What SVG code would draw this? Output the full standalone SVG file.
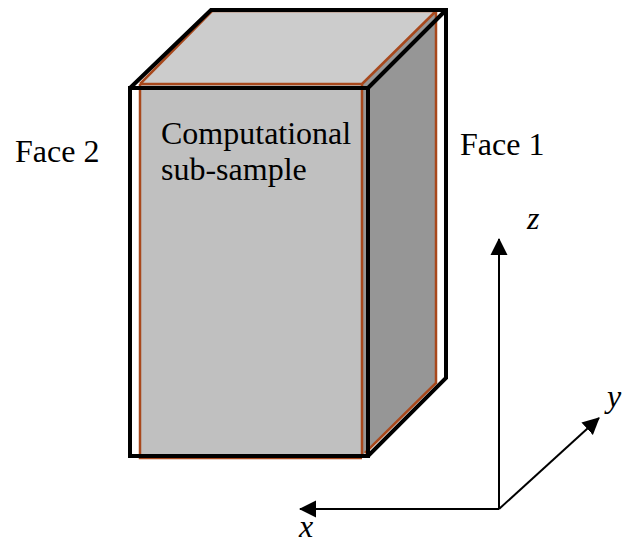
<svg xmlns="http://www.w3.org/2000/svg" width="622" height="545" viewBox="0 0 622 545">
<style>
.o{fill:none;stroke:#a8481c;stroke-width:2.5}
.k{fill:none;stroke:#000;stroke-width:4;stroke-linejoin:miter}
.a{fill:none;stroke:#000;stroke-width:2}
.t{font-family:"Liberation Serif","Times New Roman",serif;font-size:32px;fill:#000}
.i{font-style:italic}
</style>
<defs><marker id="ah" markerUnits="userSpaceOnUse" markerWidth="18" markerHeight="18" refX="16" refY="9" orient="auto"><path d="M0 0.5L17 9L0 17.5Z" fill="#000"/></marker></defs>
<g id="sample">
<path d="M212 10H436L362 84H140Z" fill="#cccccc"/>
<rect x="140" y="84" width="222" height="372" fill="#c0c0c0"/>
<path d="M362 84L436 11V383L362 456Z" fill="#969696"/>
<path class="o" d="M140 84H362V456M140 84V458H362M140 84L212 11H436V383L365 453M362 84L436 11"/>
<path class="k" d="M130 88H368V456H130ZM130 88L211 10H446V378L368 456M368 88L446 10"/>
</g>
<g id="connectors">
<path class="a" d="M499 509V239" marker-end="url(#ah)"/>
<path class="a" d="M499 509H300" marker-end="url(#ah)"/>
<path class="a" d="M499 509L599 418" marker-end="url(#ah)"/>
</g>
<g id="label-face2"><text class="t" x="15" y="162">Face 2</text></g>
<g id="label-face1"><text class="t" x="460" y="155">Face 1</text></g>
<g id="label-sample"><text class="t" x="161" y="144">Computational</text><text class="t" x="161" y="180">sub-sample</text></g>
<g id="label-z"><text class="t i" x="527" y="229">z</text></g>
<g id="label-y"><text class="t i" x="607" y="407">y</text></g>
<g id="label-x"><text class="t i" x="299" y="537">x</text></g>
</svg>
